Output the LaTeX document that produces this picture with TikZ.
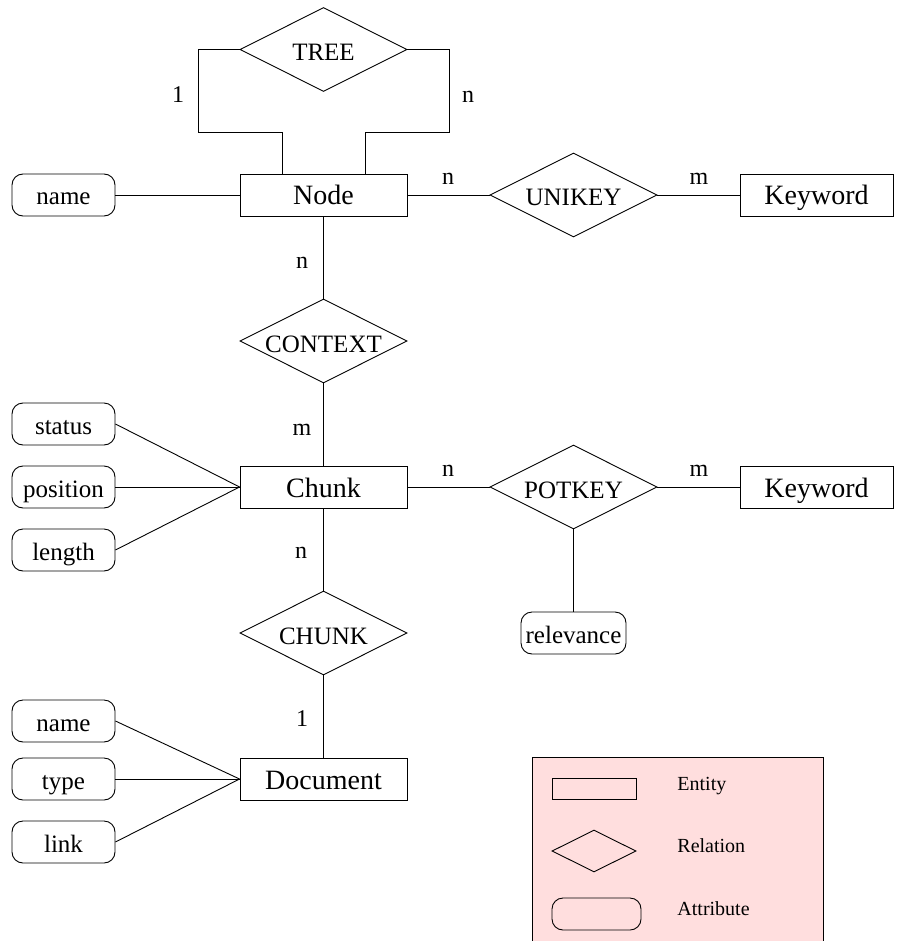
\documentclass[tikz,border=0pt]{standalone}
\usepackage{fontspec}
\setmainfont{Liberation Serif}
\usetikzlibrary{shapes.geometric}
\definecolor{legendpink}{RGB}{255,222,222}

\begin{document}
\begin{tikzpicture}[x=1pt,y=-1pt, line width=0.9pt, inner sep=0pt,
  entity/.style={rectangle,draw=black,minimum width=167pt,minimum height=42pt,text height=20pt,text depth=0pt,font=\fontsize{28}{30}\selectfont},
  relation/.style={diamond,shape aspect=2,draw=black,minimum width=167pt,minimum height=84pt,text height=22pt,text depth=0pt,font=\fontsize{25}{27}\selectfont},
  attrib/.style={rectangle,rounded corners=11pt,draw=black,minimum width=103pt,minimum height=42pt,text height=20pt,text depth=0pt,font=\fontsize{25}{27}\selectfont},
  card/.style={font=\fontsize{24}{26}\selectfont},
  legtext/.style={anchor=base west,font=\fontsize{20}{22}\selectfont}]
\useasboundingbox (0,0) rectangle (899,941);
% legend box
\fill[legendpink] (532,757) rectangle (823,941);
\draw (532,941) -- (532,757) -- (823,757) -- (823,941);
% entities
\node (nd) at (323.5,195) [entity] {Node};
\node (kw1) at (816.5,195) [entity,minimum width=153pt] {Keyword};
\node (chunk) at (323.5,487) [entity] {Chunk};
\node (kw2) at (816.5,487) [entity,minimum width=153pt] {Keyword};
\node (doc) at (323.5,779) [entity] {Document};
% relations
\node (tree) at (323.5,49.5) [relation] {TREE};
\node (unikey) at (573.5,195) [relation] {UNIKEY};
\node (context) at (323.5,341) [relation] {CONTEXT};
\node (potkey) at (573.5,487) [relation] {POTKEY};
\node (chunkrel) at (323.5,633) [relation] {CHUNK};
% attributes
\node (ndname) at (63.5,195) [attrib] {name};
\node (status) at (63.5,424) [attrib] {status};
\node (position) at (63.5,487) [attrib] {position};
\node (length) at (63.5,550) [attrib] {length};
\node (relevance) at (573.5,633) [attrib,minimum width=105pt] {relevance};
\node (docname) at (63.5,721) [attrib] {name};
\node (type) at (63.5,779) [attrib] {type};
\node (link) at (63.5,842) [attrib] {link};
% cardinalities
\node (c1) at (178,95) [card] {1};
\node (c2) at (468,97) [card] {n};
\node (c3) at (448,178.5) [card] {n};
\node (c4) at (699,178.5) [card] {m};
\node (c5) at (302,263) [card] {n};
\node (c6) at (302,430) [card] {m};
\node (c7) at (448,470.5) [card] {n};
\node (c8) at (699,470.5) [card] {m};
\node (c9) at (301,553) [card] {n};
\node (c10) at (302,719) [card] {1};
% connectors
\draw[-] (tree.west) -| (198,132) -| ([xshift=-41.5pt]nd.north);
\draw[-] (tree.east) -| (449,132) -| ([xshift=41.5pt]nd.north);
\draw[-] (ndname) -- (nd);
\draw[-] (nd) -- (unikey);
\draw[-] (unikey) -- (kw1);
\draw[-] (nd) -- (context);
\draw[-] (context) -- (chunk);
\draw[-] (status.east) -- (chunk.west);
\draw[-] (position.east) -- (chunk.west);
\draw[-] (length.east) -- (chunk.west);
\draw[-] (chunk) -- (potkey);
\draw[-] (potkey) -- (kw2);
\draw[-] (potkey) -- (relevance);
\draw[-] (chunk) -- (chunkrel);
\draw[-] (chunkrel) -- (doc);
\draw[-] (docname.east) -- (doc.west);
\draw[-] (type.east) -- (doc.west);
\draw[-] (link.east) -- (doc.west);
% legend
\node (legent) at (594,788.5) [entity,minimum width=84pt,minimum height=21pt] {};
\node (legrel) at (594,851) [relation,minimum width=84pt,minimum height=42pt] {};
\node (legatt) at (596.5,914) [attrib,minimum width=89pt,minimum height=32pt] {};
\node (legentt) at (677,790) [legtext] {Entity};
\node (legrelt) at (677,852) [legtext] {Relation};
\node (legattt) at (677,915) [legtext] {Attribute};
\end{tikzpicture}
\end{document}
